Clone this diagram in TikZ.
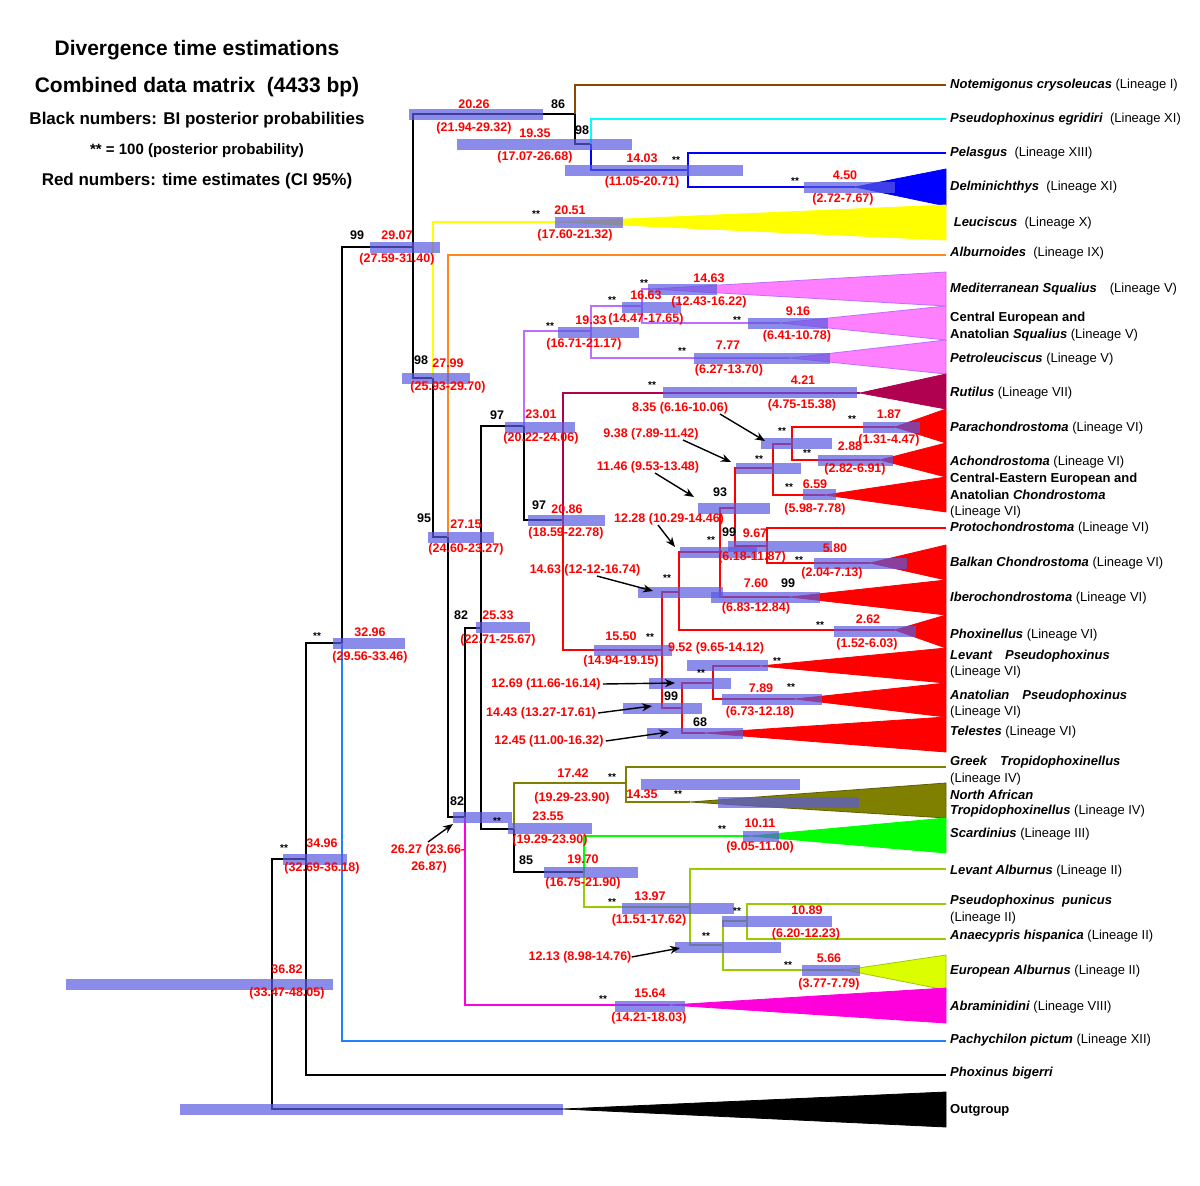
\documentclass[tikz,border=0pt]{standalone}
\usepackage{fontspec}
\setmainfont{Liberation Sans}
\usetikzlibrary{arrows.meta}
\definecolor{cBrown}{RGB}{140,70,0}
\definecolor{cCyan}{RGB}{0,255,255}
\definecolor{cBlue}{RGB}{0,0,255}
\definecolor{cYellow}{RGB}{255,255,0}
\definecolor{cOrange}{RGB}{255,136,30}
\definecolor{cViolet}{RGB}{190,110,255}
\definecolor{cPink}{RGB}{255,128,255}
\definecolor{cMaroon}{RGB}{176,0,80}
\definecolor{cRed}{RGB}{255,0,0}
\definecolor{cOlive}{RGB}{128,128,0}
\definecolor{cOliveDk}{RGB}{95,95,0}
\definecolor{cGreen}{RGB}{0,255,0}
\definecolor{cLime}{RGB}{153,204,0}
\definecolor{cLimeFill}{RGB}{220,255,0}
\definecolor{cMagenta}{RGB}{255,0,220}
\definecolor{cPachy}{RGB}{30,130,255}
\definecolor{cBar}{RGB}{90,90,225}
\newcommand{\taxon}[1]{\textbf{\textit{#1}}}

\begin{document}
\begin{tikzpicture}[x=1pt,y=-1pt,
  branch/.style={line width=1.8pt},
  bar/.style={fill=cBar,fill opacity=0.7},
  rnum/.style={text=cRed,font=\bfseries\fontsize{12.5}{14}\selectfont,inner sep=0},
  bnum/.style={font=\bfseries\fontsize{12.5}{14}\selectfont,inner sep=0},
  starlab/.style={font=\bfseries\fontsize{10}{11}\selectfont,inner sep=0},
  leaflab/.style={anchor=west,font=\fontsize{13}{15}\selectfont,inner sep=0},
  heading/.style={font=\bfseries\fontsize{21}{24}\selectfont,inner sep=0},
  subhead/.style={font=\bfseries\fontsize{17}{20}\selectfont,inner sep=0},
  pointer/.style={-{Stealth[length=10pt,width=8pt]},line width=1.4pt}]
  \def\bh{5.5} % half height of the CI bars
  \useasboundingbox (0,0) rectangle (1200,1186);
  \fill[white] (0,0) rectangle (1200,1186);

  % title block
  \node[heading] (hd1) at (197,50) {Divergence time estimations};
  \node[heading] (hd2) at (197,87) {Combined data matrix\ \ (4433 bp)};
  \node[subhead] (hd3) at (197,120) {Black numbers: BI posterior probabilities};
  \node[font=\bfseries\fontsize{15}{17}\selectfont,inner sep=0] (hd4) at (197,151) {** = 100 (posterior probability)};
  \node[subhead] (hd5) at (197,181) {Red numbers: time estimates (CI 95\%)};

  % internal nodes
  \coordinate (root) at (272,984);
  \coordinate (n3496) at (306,859);
  \coordinate (n3296) at (342,643);
  \coordinate (n2907) at (413,247);
  \coordinate (n2026) at (575,114);
  \coordinate (n1935) at (591,144);
  \coordinate (n1403) at (688,170);
  \coordinate (n2799) at (433,378);
  \coordinate (n2715) at (448,537);
  \coordinate (n2627) at (465,817);
  \coordinate (n2533) at (481,628);
  \coordinate (n2301) at (524,426);
  \coordinate (n1933) at (591,331);
  \coordinate (n1663) at (642,306);
  \coordinate (n2086) at (563,520);
  \coordinate (n1550) at (662,650);
  \coordinate (n1463) at (679,592);
  \coordinate (n1228) at (720,552);
  \coordinate (n1146) at (735,508);
  \coordinate (n938) at (773,468);
  \coordinate (n835) at (792,444);
  \coordinate (n967) at (767,546);
  \coordinate (n1443) at (682,708);
  \coordinate (n1269) at (713,683);
  \coordinate (n2355) at (514,829);
  \coordinate (n1742) at (626,783);
  \coordinate (n1970) at (584,872);
  \coordinate (n1397) at (690,907);
  \coordinate (n1213) at (723,945);
  \coordinate (n1089) at (747,921);

  % leaves and clade tips
  \coordinate (lNotem) at (946,85);
  \coordinate (lEgrid) at (946,119);
  \coordinate (lPelas) at (946,153);
  \coordinate (tDelmi) at (855,187);
  \coordinate (tLeuci) at (556,222);
  \coordinate (lAlbur) at (946,255);
  \coordinate (tMedit) at (650,289);
  \coordinate (tCentr) at (780,323);
  \coordinate (tPetro) at (790,358);
  \coordinate (tRutil) at (860,393);
  \coordinate (tParac) at (895,427);
  \coordinate (tAchon) at (880,460);
  \coordinate (tCEChon) at (825,495);
  \coordinate (lProto) at (946,528);
  \coordinate (tBalka) at (870,563);
  \coordinate (tIbero) at (790,597);
  \coordinate (tPhoxi) at (895,630);
  \coordinate (tLevPs) at (760,666);
  \coordinate (tAnaPs) at (795,699);
  \coordinate (tTeles) at (705,733);
  \coordinate (lGreek) at (946,767);
  \coordinate (tNAfr) at (690,802);
  \coordinate (tScard) at (750,836);
  \coordinate (lLevAl) at (946,869);
  \coordinate (lPunic) at (946,904);
  \coordinate (lAnaec) at (946,939);
  \coordinate (tEurAl) at (845,970);
  \coordinate (tAbram) at (670,1005);
  \coordinate (lPachy) at (946,1041);
  \coordinate (lBiger) at (946,1075);
  \coordinate (tOutgr) at (563,1109);

  % branches
  \foreach \p/\c/\col in {root/n3496/black, root/tOutgr/black,
      n3496/n3296/black, n3496/lBiger/black,
      n3296/n2907/black, n3296/lPachy/cPachy,
      n2907/n2026/black, n2907/n2799/black,
      n2026/lNotem/cBrown, n2026/n1935/black,
      n1935/lEgrid/cCyan, n1935/n1403/cBlue,
      n1403/lPelas/cBlue, n1403/tDelmi/cBlue,
      n2799/tLeuci/cYellow, n2799/n2715/black,
      n2715/lAlbur/cOrange, n2715/n2627/black,
      n2627/n2533/black, n2627/tAbram/cMagenta,
      n2533/n2301/black, n2533/n2355/black,
      n2301/n1933/cViolet, n2301/n2086/black,
      n1933/n1663/cViolet, n1933/tPetro/cViolet,
      n1663/tMedit/cViolet, n1663/tCentr/cViolet,
      n2086/tRutil/cMaroon, n2086/n1550/cRed,
      n1550/n1463/cRed, n1550/n1443/cRed,
      n1463/n1228/cRed, n1463/tPhoxi/cRed,
      n1228/n1146/cRed, n1228/tIbero/cRed,
      n1146/n938/cRed, n1146/n967/cRed,
      n938/n835/cRed, n938/tCEChon/cRed,
      n835/tParac/cRed, n835/tAchon/cRed,
      n967/lProto/cRed, n967/tBalka/cRed,
      n1443/n1269/cRed, n1443/tTeles/cRed,
      n1269/tLevPs/cRed, n1269/tAnaPs/cRed,
      n2355/n1742/cOlive, n2355/n1970/black,
      n1742/lGreek/cOlive, n1742/tNAfr/cOlive,
      n1970/tScard/cGreen, n1970/n1397/cLime,
      n1397/lLevAl/cLime, n1397/n1213/cLime,
      n1213/n1089/cLime, n1213/tEurAl/cLime,
      n1089/lPunic/cLime, n1089/lAnaec/cLime}
    \draw[branch,\col] (\p) |- (\c);

  % collapsed clades
  \foreach \t/\ya/\yb/\fc/\dc in {tDelmi/169/206/cBlue/cBlue, tLeuci/205/240/cYellow/cYellow,
      tMedit/272/306/cPink/cViolet, tCentr/306/340/cPink/cViolet, tPetro/340/374/cPink/cViolet,
      tRutil/374/409/cMaroon/cMaroon, tParac/409/443/cRed/cRed, tAchon/443/477/cRed/cRed,
      tCEChon/477/512/cRed/cRed, tBalka/545/580/cRed/cRed, tIbero/580/615/cRed/cRed,
      tPhoxi/615/648/cRed/cRed, tLevPs/648/683/cRed/cRed, tAnaPs/683/717/cRed/cRed,
      tTeles/717/752/cRed/cRed, tNAfr/783/818/cOlive/cOliveDk, tScard/818/853/cGreen/cGreen,
      tEurAl/955/990/cLimeFill/cLime, tAbram/988/1023/cMagenta/cMagenta,
      tOutgr/1092/1127/black/black}
    \filldraw[fill=\fc,draw=\dc,line width=0.8pt] (\t) -- (946,\ya) -- (946,\yb) -- cycle;

  % 95% CI bars
  \foreach \xa/\xb/\y in {66/333/984, 180/563/1109, 283/347/859, 333/405/643,
      370/440/247, 409/543/114, 457/632/144, 565/743/170, 804/895/187,
      555/623/222, 402/470/378, 428/494/537, 648/717/289, 622/681/307,
      558/639/332, 748/828/323, 694/830/358, 505/575/427, 528/605/520,
      663/857/392, 761/832/443, 863/920/427, 818/893/460, 736/801/468,
      803/836/494, 698/770/508, 728/832/546, 680/757/552, 814/907/563,
      711/820/597, 638/723/592, 834/916/631, 594/672/650, 687/768/665,
      649/731/683, 722/822/699, 623/702/708, 647/743/733, 476/530/627,
      453/512/817, 508/592/828, 641/800/784, 718/859/802, 743/779/836,
      544/638/872, 622/734/908, 722/832/921, 675/781/947, 802/860/970,
      615/685/1006}
    \fill[bar] (\xa,\y-\bh) rectangle (\xb,\y+\bh);

  % time estimates
  \foreach \x/\y/\t [count=\i] in {474/104/20.26, 474/128/(21.94-29.32),
      535/133/19.35, 535/157/(17.07-26.68), 642/158/14.03, 642/182/(11.05-20.71),
      845/175/4.50, 843/199/(2.72-7.67), 570/210/20.51, 575/235/(17.60-21.32),
      397/235/29.07, 397/259/(27.59-31.40), 448/363/27.99, 448/387/(25.93-29.70),
      466/524/27.15, 466/549/(24.60-23.27), 709/278/14.63, 709/302/(12.43-16.22),
      646/295/16.63, 646/319/(14.47-17.65), 591/320/19.33, 584/344/(16.71-21.17),
      798/311/9.16, 797/336/(6.41-10.78), 728/345/7.77, 729/370/(6.27-13.70),
      541/414/23.01, 541/438/(20.22-24.06), 567/509/20.86, 566/533/(18.59-22.78),
      803/380/4.21, 802/405/(4.75-15.38), 889/414/1.87, 889/440/(1.31-4.47),
      850/446/2.88, 855/469/(2.82-6.91), 815/484/6.59, 815/509/(5.98-7.78),
      755/533/9.67, 752/557/(6.18-11.87), 835/548/5.80, 832/573/(2.04-7.13),
      756/583/7.60, 756/608/(6.83-12.84), 868/619/2.62, 867/644/(1.52-6.03),
      498/615/25.33, 498/640/(22.71-25.67), 370/632/32.96, 370/657/(29.56-33.46),
      621/636/15.50, 621/661/(14.94-19.15), 716/648/9.52 (9.65-14.12),
      761/688/7.89, 760/712/(6.73-12.18), 573/773/17.42, 572/798/(19.29-23.90),
      642/794/14.35, 548/816/23.55, 550/840/(19.29-23.90),
      760/823/10.11, 760/847/(9.05-11.00), 583/859/19.70, 583/883/(16.75-21.90),
      322/843/34.96, 322/868/(32.69-36.18), 650/896/13.97, 649/920/(11.51-17.62),
      807/910/10.89, 806/934/(6.20-12.23), 829/958/5.66, 829/984/(3.77-7.79),
      287/969/36.82, 287/993/(33.47-48.05), 650/993/15.64, 649/1018/(14.21-18.03)}
    \node[rnum] (red\i) at (\x,\y) {\t};

  % posterior probabilities
  \foreach \x/\y/\t [count=\i] in {558/104/86, 582/130/98, 357/235/99, 421/360/98,
      424/518/95, 497/415/97, 539/505/97, 720/492/93, 729/532/99, 788/583/99,
      461/615/82, 671/696/99, 700/722/68, 457/801/82, 526/860/85}
    \node[bnum] (pp\i) at (\x,\y) {\t};
  \foreach \x/\y [count=\i] in {676/160, 795/181, 536/214, 644/283, 612/300,
      550/326, 737/320, 682/351, 652/385, 852/419, 782/431, 807/453, 759/459,
      789/487, 711/540, 799/560, 667/578, 820/625, 317/636, 650/637, 777/661,
      701/673, 791/687, 612/777, 678/794, 497/821, 722/829, 284/848, 612/902,
      737/911, 706/936, 788/965, 603/999}
    \node[starlab] (st\i) at (\x,\y) {**};

  % estimates pointed at their bars
  \node[rnum] (a835) at (680,408) {8.35 (6.16-10.06)};
  \node[rnum] (a938) at (651,434) {9.38 (7.89-11.42)};
  \node[rnum] (a1146) at (648,467) {11.46 (9.53-13.48)};
  \node[rnum] (a1228) at (669,519) {12.28 (10.29-14.46)};
  \node[rnum] (a1463) at (585,570) {14.63 (12-12-16.74)};
  \node[rnum] (a1269) at (546,684) {12.69 (11.66-16.14)};
  \node[rnum] (a1443) at (541,713) {14.43 (13.27-17.61)};
  \node[rnum] (a1245) at (549,741) {12.45 (11.00-16.32)};
  \node[rnum] (a2627) at (428,850) {26.27 (23.66-};
  \node[rnum] (a2627b) at (429,867) {26.87)};
  \node[rnum] (a1213) at (580,957) {12.13 (8.98-14.76)};
  \coordinate (b835) at (765,441);
  \coordinate (b938) at (731,462);
  \coordinate (b1146) at (694,497);
  \coordinate (b1228) at (675,547);
  \coordinate (b1463) at (653,591);
  \coordinate (b1269) at (675,683);
  \coordinate (b1443) at (652,706);
  \coordinate (b1245) at (669,732);
  \coordinate (b2627) at (453,824);
  \coordinate (b1213) at (680,948);
  \draw[pointer] ([xshift=40pt]a835.south) -- (b835);
  \draw[pointer] ([xshift=32pt]a938.south) -- (b938);
  \draw[pointer] ([xshift=7pt]a1146.south) -- (b1146);
  \draw[pointer] ([xshift=-11pt]a1228.south) -- (b1228);
  \draw[pointer] ([xshift=12pt]a1463.south) -- (b1463);
  \draw[pointer] ([xshift=2pt]a1269.east) -- (b1269);
  \draw[pointer] ([xshift=2pt]a1443.east) -- (b1443);
  \draw[pointer] ([xshift=2pt]a1245.east) -- (b1245);
  \draw[pointer] ([yshift=2pt]a2627.north) -- (b2627);
  \draw[pointer] (a1213.east) -- (b1213);

  % taxa
  \foreach \y/\t [count=\i] in {85/\taxon{Notemigonus crysoleucas} (Lineage I),
      119/\taxon{Pseudophoxinus egridiri}\ \ (Lineage XI),
      153/\taxon{Pelasgus}\ \ (Lineage XIII),
      187/\taxon{Delminichthys}\ \ (Lineage XI),
      223/\ \taxon{Leuciscus}\ \ (Lineage X),
      253/\taxon{Alburnoides}\ \ (Lineage IX),
      289/\taxon{Mediterranean Squalius}\quad (Lineage V),
      318/\textbf{Central European and},
      335/\textbf{Anatolian \textit{Squalius}} (Lineage V),
      359/\taxon{Petroleuciscus} (Lineage V),
      393/\taxon{Rutilus} (Lineage VII),
      428/\taxon{Parachondrostoma} (Lineage VI),
      462/\taxon{Achondrostoma} (Lineage VI),
      479/\textbf{Central-Eastern European and},
      495/\textbf{Anatolian \textit{Chondrostoma}},
      512/(Lineage VI),
      528/\taxon{Protochondrostoma} (Lineage VI),
      563/\taxon{Balkan Chondrostoma} (Lineage VI),
      598/\taxon{Iberochondrostoma} (Lineage VI),
      635/\taxon{Phoxinellus} (Lineage VI),
      656/\taxon{Levant\quad Pseudophoxinus},
      672/(Lineage VI),
      696/\taxon{Anatolian\quad Pseudophoxinus},
      712/(Lineage VI),
      732/\taxon{Telestes} (Lineage VI),
      762/\taxon{Greek\quad Tropidophoxinellus},
      779/(Lineage IV),
      795/\taxon{North African},
      811/\taxon{Tropidophoxinellus} (Lineage IV),
      834/\taxon{Scardinius} (Lineage III),
      871/\taxon{Levant Alburnus} (Lineage II),
      901/\taxon{Pseudophoxinus\ \ punicus},
      918/(Lineage II),
      936/\taxon{Anaecypris hispanica} (Lineage II),
      971/\taxon{European Alburnus} (Lineage II),
      1007/\taxon{Abraminidini} (Lineage VIII),
      1040/\taxon{Pachychilon pictum} (Lineage XII),
      1073/\taxon{Phoxinus bigerri},
      1110/\textbf{Outgroup}}
    \node[leaflab] (lab\i) at (950,\y) {\t};
\end{tikzpicture}
\end{document}
